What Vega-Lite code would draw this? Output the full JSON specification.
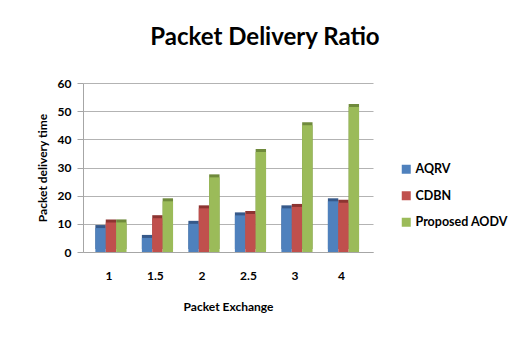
{
  "$schema": "https://vega.github.io/schema/vega-lite/v6.json",
  "width": 290,
  "height": 169,
  "padding": {"left": 36, "top": 26, "right": 10, "bottom": 10},
  "background": "white",
  "title": {
    "text": "Packet Delivery Ratio",
    "font": "Lato",
    "fontSize": 24,
    "fontWeight": "bold",
    "color": "#000000",
    "anchor": "middle",
    "frame": "group",
    "dx": 37,
    "offset": 27
  },
  "data": {
    "values": [
      {"exchange": "1", "series": "AQRV", "value": 8.5},
      {"exchange": "1", "series": "CDBN", "value": 10.5},
      {"exchange": "1", "series": "Proposed AODV", "value": 10.5},
      {"exchange": "1.5", "series": "AQRV", "value": 5},
      {"exchange": "1.5", "series": "CDBN", "value": 12},
      {"exchange": "1.5", "series": "Proposed AODV", "value": 18},
      {"exchange": "2", "series": "AQRV", "value": 10},
      {"exchange": "2", "series": "CDBN", "value": 15.5},
      {"exchange": "2", "series": "Proposed AODV", "value": 26.5},
      {"exchange": "2.5", "series": "AQRV", "value": 13},
      {"exchange": "2.5", "series": "CDBN", "value": 13.5},
      {"exchange": "2.5", "series": "Proposed AODV", "value": 35.5},
      {"exchange": "3", "series": "AQRV", "value": 15.5},
      {"exchange": "3", "series": "CDBN", "value": 16},
      {"exchange": "3", "series": "Proposed AODV", "value": 45},
      {"exchange": "4", "series": "AQRV", "value": 18},
      {"exchange": "4", "series": "CDBN", "value": 17.5},
      {"exchange": "4", "series": "Proposed AODV", "value": 51.5}
    ]
  },
  "encoding": {
    "x": {
      "field": "exchange",
      "type": "ordinal",
      "sort": null,
      "scale": {"paddingInner": 0.33, "paddingOuter": 0.283, "align": 0.47},
      "axis": {
        "title": "Packet Exchange",
        "labelAngle": 0,
        "labelOffset": -2,
        "labelFont": "Lato",
        "labelFontWeight": "bold",
        "labelFontSize": 12,
        "labelColor": "#000000",
        "labelPadding": 18,
        "ticks": false,
        "domainColor": "#a6a6a6",
        "titleFont": "Lato",
        "titleFontSize": 12,
        "titleFontWeight": "bold",
        "titleColor": "#000000",
        "titlePadding": 20
      }
    },
    "xOffset": {"field": "series", "type": "nominal"},
    "y": {
      "field": "value",
      "type": "quantitative",
      "scale": {"domain": [0, 60]},
      "axis": {
        "title": "Packet delivery time",
        "values": [0, 10, 20, 30, 40, 50, 60],
        "labelFont": "Lato",
        "labelFontWeight": "bold",
        "labelFontSize": 12,
        "labelColor": "#000000",
        "labelPadding": 6,
        "tickColor": "#a6a6a6",
        "tickSize": 6,
        "domainColor": "#a6a6a6",
        "gridColor": "#b3b3b3",
        "titleFont": "Lato",
        "titleFontSize": 12,
        "titleFontWeight": "bold",
        "titleColor": "#000000",
        "titlePadding": 8
      }
    }
  },
  "layer": [
    {
      "mark": {"type": "bar", "xOffset": 3, "yOffset": -3},
      "encoding": {
        "color": {
          "field": "series",
          "type": "nominal",
          "scale": {
            "domain": ["AQRV", "CDBN", "Proposed AODV"],
            "range": ["#36598a", "#8d3431", "#6f8a3c"]
          },
          "legend": null
        }
      }
    },
    {
      "mark": {"type": "bar"},
      "encoding": {
        "color": {
          "field": "series",
          "type": "nominal",
          "scale": {
            "domain": ["AQRV", "CDBN", "Proposed AODV"],
            "range": ["#4f81bd", "#c0504d", "#9bbb59"]
          },
          "legend": {
            "title": null,
            "orient": "none",
            "legendX": 317,
            "legendY": 80,
            "symbolType": "square",
            "symbolSize": 81,
            "labelOffset": 3,
            "rowPadding": 13.5,
            "labelFont": "Lato",
            "labelFontWeight": "bold",
            "labelFontSize": 12.5,
            "labelColor": "#000000"
          }
        }
      }
    }
  ],
  "resolve": {"scale": {"color": "independent"}, "legend": {"color": "independent"}},
  "config": {"view": {"stroke": null}}
}
